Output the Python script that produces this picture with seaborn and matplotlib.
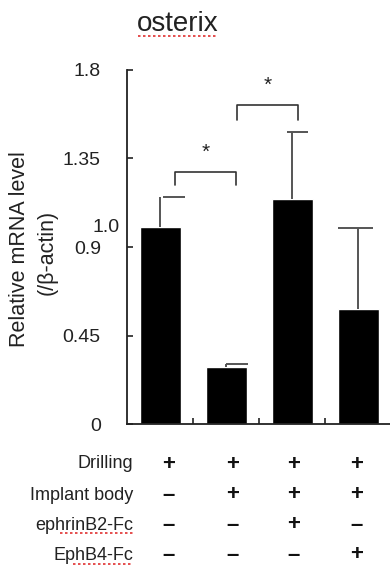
import numpy as np
import pandas as pd
import matplotlib
matplotlib.use('Agg')
import matplotlib.pyplot as plt
import matplotlib.transforms as mtransforms
import seaborn as sns

# data
groups = ['G1', 'G2', 'G3', 'G4']
means = [1.00, 0.29, 1.145, 0.585]
err_top = [1.155, 0.305, 1.485, 0.997]

yticks = [0, 0.45, 0.9, 1.35, 1.8]
yticklabels = ['0', '0.45', '0.9', '1.35', '1.8']

row_names = ['Drilling', 'Implant body', 'ephrinB2-Fc', 'EphB4-Fc']
row_signs = [
    ['+', '+', '+', '+'],
    ['\u2013', '+', '+', '+'],
    ['\u2013', '\u2013', '+', '\u2013'],
    ['\u2013', '\u2013', '\u2013', '+'],
]

# significance brackets: (x1, x2, top, leg bottom)
brackets = [(0.23, 1.15, 1.281, 1.215), (1.17, 2.09, 1.622, 1.548)]

sns.set_style('ticks')
plt.rcParams['font.family'] = ['Liberation Sans', 'DejaVu Sans']

df = pd.DataFrame({'group': groups, 'value': means})

fig = plt.figure(figsize=(3.9, 5.69), dpi=100)
ax = fig.add_axes([0.326, 0.2548, 0.674, 0.6222])

sns.barplot(data=df, x='group', y='value', color='black', width=0.62,
            saturation=1, errorbar=None, ax=ax)

# upper error bars with off-centre caps, as in the original
cap_lo = [0.05, 0.0, -0.08, -0.3]
cap_hi = [0.38, 0.33, 0.24, 0.22]
for i, (m, e) in enumerate(zip(means, err_top)):
    ax.vlines(i, m, e, color='#555555', lw=1.4)
    ax.hlines(e, i + cap_lo[i], i + cap_hi[i], color='#555555', lw=1.4)

for x1, x2, top, bot in brackets:
    ax.plot([x1, x1, x2, x2], [bot, top, top, bot], color='#333333', lw=1.2)
    ax.text((x1 + x2) / 2, top + 0.05, '*', ha='center', va='bottom',
            fontsize=15, color='#222222')

ax.set_xlim(-0.5, 3.48)
ax.set_ylim(0, 1.8)
ax.set_yticks(yticks)
ax.set_yticklabels(yticklabels)
ax.set_xticks([0.5, 1.5, 2.5])
ax.set_xticklabels([])
ax.tick_params(axis='both', direction='in', length=4, width=1.2, color='#222222')
ax.tick_params(axis='y', pad=19, labelsize=14, labelcolor='#222222')
ax.set_xlabel('')
ax.set_ylabel('')
for s in ['top', 'right']:
    ax.spines[s].set_visible(False)
for s in ['left', 'bottom']:
    ax.spines[s].set_linewidth(1.3)
    ax.spines[s].set_color('#222222')

# overlapping "1.0" label seen in the original
ax.text(-0.03, 1.0, '1.0', transform=mtransforms.blended_transform_factory(ax.transAxes, ax.transData),
        ha='right', va='center', fontsize=14, color='#222222')

# y label (two lines)
fig.text(20 / 390, 1 - 249 / 569, 'Relative mRNA level', rotation=90,
         ha='center', va='center', fontsize=15.5, color='#222222')
fig.text(47 / 390, 1 - 252 / 569, '(/\u03b2-actin)', rotation=90,
         ha='center', va='center', fontsize=15.5, color='#222222')

# title
fig.text(178 / 390, 1 - 24 / 569, 'osterix', ha='center', va='center',
         fontsize=20, color='#222222')
fig.add_artist(plt.Line2D([138 / 390, 218 / 390], [1 - 36 / 569, 1 - 36 / 569],
                          color='#e03030', lw=1.2, ls=(0, (1.5, 1.5))))

# condition table below the axis
row_y = [464, 495, 525, 555]
sign_x = [0.12, 1.1, 2.02, 2.98]
for r, (name, signs) in enumerate(zip(row_names, row_signs)):
    yf = 1 - row_y[r] / 569
    fig.text(133 / 390, yf, name, ha='right', va='center', fontsize=13, color='#222222')
    for c, s in enumerate(signs):
        xf = fig.transFigure.inverted().transform(ax.transData.transform((sign_x[c], 0)))[0]
        fig.text(xf, yf, s, ha='center', va='center', fontsize=16,
                 fontweight='bold', color='#111111')

# spell-check underlines
for x1, x2, yy in [(60, 133, 533), (73, 133, 564)]:
    fig.add_artist(plt.Line2D([x1 / 390, x2 / 390], [1 - yy / 569, 1 - yy / 569],
                              color='#e03030', lw=1.2, ls=(0, (1.5, 1.5))))

fig.savefig('out.png', dpi=100)
